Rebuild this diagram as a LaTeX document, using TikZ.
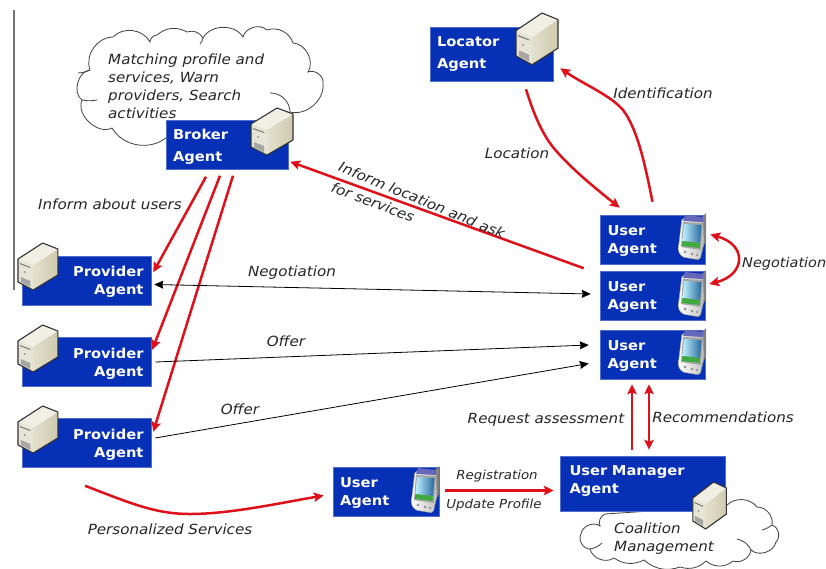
\documentclass[tikz,border=0pt]{standalone}
\usepackage{fontspec}
\setmainfont[FakeStretch=1.08]{DejaVu Sans}
\usetikzlibrary{arrows.meta,calc,shadings}
\definecolor{agentblue}{HTML}{0630B6}
\definecolor{linkred}{HTML}{E0101A}
\definecolor{srvtop}{HTML}{F1EFE4}
\definecolor{srvfront}{HTML}{E6E4D4}
\definecolor{srvsidea}{HTML}{EFEDE0}
\definecolor{srvsideb}{HTML}{CFCAAE}
\tikzset{
  x=1pt,y=-1pt,
  agentbox/.style={draw=agentblue!70!white,line width=.5pt,fill=agentblue,text=white,font=\bfseries\fontsize{13.6}{18}\selectfont,inner ysep=0pt,inner xsep=0pt,text depth=18pt,minimum height=#1},
  agentbox/.default=49pt,
  lefttext/.style={align=left},
  righttext/.style={align=right},
  redlink/.style={draw=linkred,line width=2.5pt,-{Stealth[length=10pt,width=9.5pt,inset=2pt]}},
  redboth/.style={draw=linkred,line width=2.5pt,{Stealth[length=10pt,width=9.5pt,inset=2pt]}-{Stealth[length=10pt,width=9.5pt,inset=2pt]}},
  blacklink/.style={draw=black,line width=.8pt,-{Stealth[length=9pt,width=8pt,inset=1pt]}},
  blackboth/.style={draw=black,line width=.8pt,{Stealth[length=9pt,width=8pt,inset=1pt]}-{Stealth[length=9pt,width=8pt,inset=1pt]}},
  linktext/.style={font=\itshape\fontsize{14}{18}\selectfont,text=black!85,inner sep=0pt},
  smalltext/.style={font=\itshape\fontsize{12.4}{18}\selectfont,text=black!85,inner sep=0pt},
  cloudline/.style={draw=black!75,line width=.8pt,fill=white},
  tickline/.style={draw=black!75,line width=.8pt},
  server/.pic={
    \path[left color=srvsidea,right color=srvsideb]
      (1,16)--(27,0)--(43,6)--(43,32)--(17,47)--(1,39)--cycle;
    \path[fill=srvtop](27,0)--(43,6)--(17,22)--(1,16)--cycle;
    \path[fill=srvfront](1,16)--(17,22)--(17,47)--(1,39)--cycle;
    \path[fill=black!55](3,20)--(14,24)--(14,25)--(3,21)--cycle;
    \path[fill=black!35](4,34)--(14,38)--(14,44)--(4,39)--cycle;
    \path[fill=black!45](8,29) circle[radius=1pt];
    \path[draw=black!80,line width=1.1pt,line join=round]
      (1,16)--(27,0)--(43,6)--(43,32)--(17,47)--(1,39)--cycle;
  },
  phone/.pic={
    \path[fill=black!50](24,4)--(28,0)--(28,28)--(25,34)--cycle;
    \path[draw=black!40,line width=.4pt,left color=white,right color=black!25,rounded corners=2pt]
      (4,5)--(25,6)--(26,30)--(22,47)--(4,44)--(0,38)--cycle;
    \path[fill=black!45!blue!60!white](7,2)--(25,4)--(25,9)--(5,8)--cycle;
    \path[fill=black!35!white](5,9)--(25,10)--(23,37)--(3,34)--cycle;
    \path[left color=blue!20!cyan!25!white,right color=blue!45!cyan!55!black!85!white](6,11)--(23.5,12)--(22,30)--(4.5,28)--cycle;
    \path[fill=green!55!black!75!white](4.5,28)--(22,30)--(21.5,35)--(4,33)--cycle;
    \path[fill=black!45](7,39) circle[radius=1.4pt] (14,41) circle[radius=1.4pt] (19,42) circle[radius=1.2pt];
  },
}
\begin{document}
\begin{tikzpicture}
\useasboundingbox (0,0) rectangle (826,568);
\fill[white] (0,0) rectangle (826,568);
\draw[black!55,line width=1.2pt] (14,10)--(14,290);

% clouds
\draw[cloudline] (167,137) to[bend left=50] (112,128) to[bend left=70] (82,100) to[bend left=70] (90,70) to[bend left=55] (113,37) to[bend left=55] (150,42) to[bend left=40] (157,35)
  to[bend left=35] (187,32) to[bend left=40] (203,38) to[bend left=60] (243,37) to[bend left=60] (267,30) to[bend left=45] (293,43) to[bend left=60] (308,72) to[bend left=60] (323,83) to[bend left=55] (290,112);
\draw[tickline] (82,100) to[bend right=10] (97,100);
\draw[tickline] (90,70) to[bend left=10] (78,73);
\draw[tickline] (270,93) to[bend left=45] (290,112);
\draw[tickline] (203,38) to[bend left=15] (200,44);

\draw[cloudline] (614,558) to[bend left=55] (590,549) to[bend left=60] (581,534) to[bend left=60] (600,526) to[bend left=45] (605,514)
  -- (726,506) to[bend left=50] (757,507) to[bend left=50] (772,525) to[bend left=60] (776,542) to[bend left=60] (751,550) to[bend left=50] (733,561) to[bend left=40] (706,561) to[bend left=30] (680,567) to[bend left=30] (644,560) to[bend left=30] (614,558);
\draw[tickline] (590,549) to[bend right=15] (602,543);
\draw[tickline] (751,550) to[bend right=25] (737,539);
\draw[tickline] (772,525) to[bend left=10] (762,530);

% agents
\node[agentbox,text depth=22pt,minimum width=122pt,text width=108pt,lefttext] (broker) at (227,145) {Broker\\[4pt]Agent};
\node[agentbox=54pt,text depth=25pt,minimum width=123pt,text width=109pt,lefttext] (locator) at (491.5,54) {Locator\\[4pt]Agent};
\node[agentbox,minimum width=129pt,text width=114pt,righttext] (prov1) at (86.5,280.5) {Provider\\Agent};
\node[agentbox,minimum width=129pt,text width=114pt,righttext] (prov2) at (86.5,362) {Provider\\Agent};
\node[agentbox,minimum width=129pt,text width=114pt,righttext] (prov3) at (86.5,443) {Provider\\Agent};
\node[agentbox,minimum width=105pt,text width=90pt,lefttext] (user1) at (652.5,239.5) {User\\Agent};
\node[agentbox,minimum width=105pt,text width=90pt,lefttext] (user2) at (652.5,296) {User\\Agent};
\node[agentbox,minimum width=105pt,text width=90pt,lefttext] (user3) at (652.5,354.5) {User\\Agent};
\node[agentbox,minimum width=106pt,text width=92pt,lefttext] (user4) at (386,491.5) {User\\Agent};
\node[agentbox=55pt,text depth=26pt,minimum width=165pt,text width=146pt,lefttext] (manager) at (642.5,483.5) {User Manager\\Agent\\[-8pt]\mbox{}};

% icons
\pic[shift={(250,108)}] {server};
\pic[shift={(515,13)},yscale=1.1] {server};
\pic[shift={(17,243)},xscale=.95] {server};
\pic[shift={(17,325)},xscale=.95] {server};
\pic[shift={(17,406)},xscale=.95] {server};
\pic[shift={(692,482)},xscale=.8] {server};
\pic[shift={(678,213)}] {phone};
\pic[shift={(678,270)}] {phone};
\pic[shift={(678,328)}] {phone};
\pic[shift={(411,466)}] {phone};

% red connectors
\draw[redlink] ([shift={(-21,7)}]broker.south) -- ([shift={(2,-33)}]prov1.south east);
\draw[redlink] ([shift={(-7,6)}]broker.south) -- ([shift={(1,-37)}]prov2.south east);
\draw[redlink] ([shift={(6,6)}]broker.south) -- ([shift={(2,-36)}]prov3.south east);
\draw[redlink] ([shift={(-16,-3)}]user2.north west) -- ([shift={(2,-8)}]broker.south east);
\draw[redlink] ([shift={(34.5,8)}]locator.south) .. controls (534,115) and (543,137) .. (558,153) .. controls (575,172) and (600,192) .. ([shift={(20,-7)}]user1.north west);
\draw[redlink] ([shift={(0,-13)}]user1.north) .. controls (645,165) and (638,130) .. (623,110) .. controls (610,95) and (585,85) .. ([shift={(7,-13)}]locator.south east);
\draw[redboth] ([shift={(5,-5)}]user1.east) .. controls (748,245) and (745,275) .. ([shift={(4,-12)}]user2.east);
\draw[redlink] ([shift={(-1.5,18)}]prov3.south) .. controls (130,503) and (155,514) .. (190,514) .. controls (230,514) and (280,503) .. ([shift={(-9,4)}]user4.west);
\draw[redlink] ([shift={(6,-1)}]user4.east) -- ([shift={(-6,7)}]manager.west);
\draw[redlink] ([shift={(-10.5,-6)}]manager.north) -- ([shift={(-20.5,5)}]user3.south);
\draw[redboth] ([shift={(6.5,-6)}]manager.north) -- ([shift={(-3.5,5)}]user3.south);

% black connectors
\draw[blackboth] ([shift={(3,4)}]prov1.east) -- ([shift={(-9,-2)}]user2.west);
\draw[blacklink] ([shift={(4,0)}]prov2.east) -- ([shift={(-11,-9.5)}]user3.west);
\draw[blacklink] ([shift={(4,-5)}]prov3.east) -- ([shift={(-11,9)}]user3.west);

% labels
\node[linktext,align=left,anchor=north west] (cloudtext) at (108,53.5) {Matching profile and\\services, Warn\\providers, Search\\activities};
\node[linktext] (t1) at (110,204) {Inform about users};
\node[linktext] (t2) at (292,273) {Negotiation};
\node[linktext] (t3) at (286,341) {Offer};
\node[linktext] (t4) at (240,409) {Offer};
\node[linktext] (t5) at (170,529) {Personalized Services};
\node[linktext] (t6) at (517,153) {Location};
\node[linktext] (t7) at (663,93) {Identification};
\node[linktext,anchor=west,font=\itshape\fontsize{13.4}{18}\selectfont] (t8) at (742,264) {Negotiation};
\node[linktext] (t9) at (546,420) {Request assessment};
\node[linktext] (t10) at (723,417) {Recommendations};
\node[smalltext] (t11) at (497,476) {Registration};
\node[smalltext] (t12) at (494,505) {Update Profile};
\node[linktext,align=left,anchor=north west] (t13) at (614,523) {Coalition\\Management};
\node[linktext,rotate=-22.5] (t14) at (422,200) {Inform location and ask};
\node[linktext,rotate=-21] (t15) at (373,202) {for services};
\end{tikzpicture}
\end{document}
